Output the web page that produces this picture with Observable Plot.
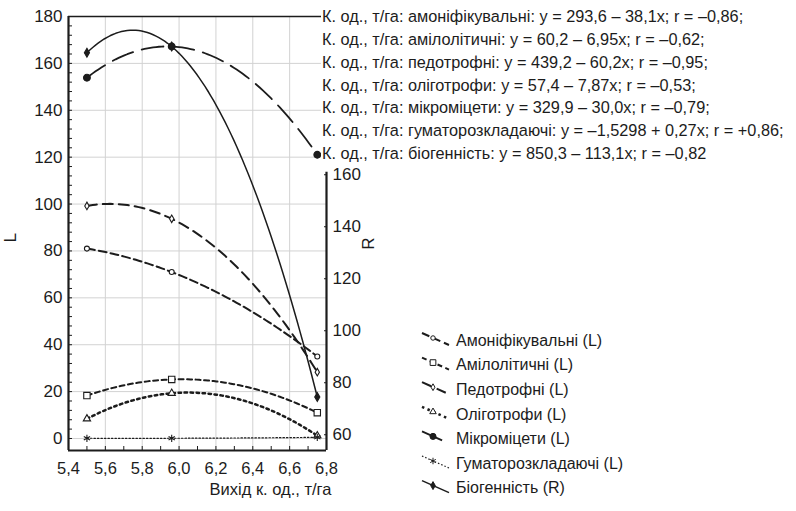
<!DOCTYPE html>
<html>
<head>
<meta charset="utf-8">
<script src="https://cdn.jsdelivr.net/npm/d3@7"></script>
<script src="https://cdn.jsdelivr.net/npm/@observablehq/plot@0.6"></script>
<style>
  html, body { margin: 0; padding: 0; background: white; }
</style>
</head>
<body>
<div id="chart"></div>
<script>
// ---- data ----
const xVals = [5.5, 5.96, 6.75];
const amonif = [81, 71, 35];          // Амоніфікувальні (L)
const amilo = [18.3, 25.2, 11];       // Амілолітичні (L)
const pedo = [99.2, 93.7, 28.3];      // Педотрофні (L)
const oligo = [8.4, 19.3, 1.2];       // Оліготрофи (L)
const mikro = [153.9, 167.2, 121];    // Мікроміцети (L)
const humat = [0.1, 0.1, 0.5];        // Гуматорозкладаючі (L)
const biogen = [206.9, 209.3, 74.5];  // Біогенність (R)

const seriesNames = ["Амоніфікувальні (L)", "Амілолітичні (L)", "Педотрофні (L)",
  "Оліготрофи (L)", "Мікроміцети (L)", "Гуматорозкладаючі (L)", "Біогенність (R)"];
const seriesValues = [amonif, amilo, pedo, oligo, mikro, humat, biogen];

const xTicks = [5.4, 5.6, 5.8, 6.0, 6.2, 6.4, 6.6, 6.8];
const xMinor = [5.5, 5.6, 5.7, 5.8, 5.9, 6.0, 6.1, 6.2, 6.3, 6.4, 6.5, 6.6, 6.7];
const yTicks = [0, 20, 40, 60, 80, 100, 120, 140, 160, 180];
const rTicks = [60, 80, 100, 120, 140, 160];

const regressionLabels = [
  "К. од., т/га: амоніфікувальні: y = 293,6 – 38,1x; r = –0,86;",
  "К. од., т/га: амілолітичні: y = 60,2 – 6,95x; r = –0,62;",
  "К. од., т/га: педотрофні: y = 439,2 – 60,2x; r = –0,95;",
  "К. од., т/га: оліготрофи: y = 57,4 – 7,87x; r = –0,53;",
  "К. од., т/га: мікроміцети: y = 329,9 – 30,0x; r = –0,79;",
  "К. од., т/га: гуматорозкладаючі: y = –1,5298 + 0,27x; r = +0,86;",
  "К. од., т/га: біогенність: y = 850,3 – 113,1x; r = –0,82"
];

// ---- styles ----
const ink = "#1c1c1c";
const styles = [
  {dash: "8,4",   sw: 2,   symbol: "circle",   r: 2.5, fill: "white", d3sym: d3.symbolCircle},
  {dash: "5,3.5", sw: 2,   symbol: "square",   r: 3.6, fill: "white", d3sym: d3.symbolSquare},
  {dash: "10,6",  sw: 2,   symbol: "diamond",  r: 2.3, fill: "white", d3sym: d3.symbolDiamond},
  {dash: "2.5,3.5", sw: 2.5, symbol: "triangle", r: 2.7, fill: "white", d3sym: d3.symbolTriangle},
  {dash: "22,9",  sw: 1.8, symbol: "circle",   r: 3.4, fill: ink,     d3sym: d3.symbolCircle},
  {dash: "1.5,2", sw: 1.2, symbol: "asterisk", r: 3.4, fill: "none",  d3sym: d3.symbolAsterisk},
  {dash: null,    sw: 1.5, symbol: "diamond",  r: 2.7, fill: ink,     d3sym: d3.symbolDiamond}
];

// right (R) axis expressed in left (L) units
const rToL = d3.scaleLinear().domain([60, 160]).range([1.6, 112.5]);
const yMin = -5.12;
const fmt = d => d.toFixed(1).replace(".", ",");

// smooth polynomial curve through the drawn points (rendering style)
function polyCurve(context) {
  let pts;
  return {
    areaStart() {}, areaEnd() {},
    lineStart() { pts = []; },
    point(x, y) { pts.push([+x, +y]); },
    lineEnd() {
      const n = pts.length;
      if (!n) return;
      const f = (x) => {
        let s = 0;
        for (let i = 0; i < n; i++) {
          let l = 1;
          for (let j = 0; j < n; j++) if (j !== i) l *= (x - pts[j][0]) / (pts[i][0] - pts[j][0]);
          s += l * pts[i][1];
        }
        return s;
      };
      const x0 = pts[0][0], x1 = pts[n - 1][0], steps = 80;
      for (let k = 0; k <= steps; k++) {
        const x = x0 + (x1 - x0) * k / steps;
        if (k === 0) context.moveTo(x, f(x)); else context.lineTo(x, f(x));
      }
    }
  };
}

const rows = seriesValues.map((vals, si) => xVals.map((x, i) => ({
  x, y: si === 6 ? rToL(vals[i]) : vals[i]
})));

const lineMarks = rows.map((r, si) => Plot.line(r, {
  x: "x", y: "y", curve: polyCurve, stroke: ink,
  strokeWidth: styles[si].sw, strokeDasharray: styles[si].dash
}));
const dotMarks = rows.map((r, si) => Plot.dot(r, {
  x: "x", y: "y", symbol: () => styles[si].symbol, r: styles[si].r,
  fill: styles[si].fill, stroke: ink, strokeWidth: 1.1
}));

const chart = Plot.plot({
  width: 796, height: 511,
  marginLeft: 68, marginRight: 470, marginTop: 16, marginBottom: 61,
  style: {fontFamily: "'Liberation Sans', Arial, sans-serif", fontSize: "16px", color: ink, background: "white"},
  x: {domain: [5.4, 6.8]},
  y: {domain: [yMin, 180]},
  marks: [
    Plot.ruleY(yTicks.slice(0, -1), {stroke: "#d2d2d2", strokeWidth: 1}),
    Plot.ruleX(xTicks.slice(1, -1), {stroke: "#d2d2d2", strokeWidth: 1}),
    // frame
    Plot.ruleY([180], {stroke: ink, strokeWidth: 1.5}),
    Plot.ruleY([yMin], {stroke: ink, strokeWidth: 2.2}),
    Plot.ruleX([5.4], {stroke: ink, strokeWidth: 2.2}),
    Plot.ruleX([{x: 6.8, y1: rToL(161), y2: yMin}], {x: "x", y1: "y1", y2: "y2", stroke: ink, strokeWidth: 2.2}),
    // left axis
    Plot.axisY(yTicks, {anchor: "left", tickSize: 0, tickPadding: 6, fontSize: 17, label: null}),
    Plot.axisY(d3.range(0, 181, 4), {anchor: "left", tickSize: 4, dx: 4, tickFormat: () => "", label: null}),
    // bottom axis
    Plot.axisX(xTicks, {anchor: "bottom", tickSize: 0, tickPadding: 12, fontSize: 16.5, tickFormat: fmt, label: null}),
    Plot.axisX(xMinor, {anchor: "bottom", tickSize: 4, dy: -4, tickFormat: () => "", label: null}),
    // right axis (R)
    Plot.axisY(rTicks.map(rToL), {anchor: "right", tickSize: 0, tickPadding: 6, fontSize: 17,
      tickFormat: d => String(Math.round(rToL.invert(d))), label: null}),
    Plot.axisY(rTicks.map(rToL), {anchor: "right", tickSize: 3, dx: -3, tickFormat: () => "", label: null}),
    // axis titles
    Plot.text(["Вихід к. од., т/га"], {text: d => d, frameAnchor: "bottom", dx: 73, dy: 44, fontSize: 16.5}),
    Plot.text(["L"], {text: d => d, frameAnchor: "left", dx: -58, dy: 9, rotate: -90, fontSize: 17}),
    Plot.text(["R"], {text: d => d, frameAnchor: "right", dx: 42, dy: 4, rotate: -90, fontSize: 17}),
    ...lineMarks,
    ...dotMarks
  ]
});
document.getElementById("chart").appendChild(chart);

// ---- legends ----
const svgSel = d3.select(chart);
const topLegend = svgSel.append("g").attr("text-anchor", "start");
topLegend.append("rect").attr("x", 321).attr("y", 3).attr("width", 475).attr("height", 163).attr("fill", "white");
regressionLabels.forEach((t, i) => {
  topLegend.append("text").attr("x", 322).attr("y", 16 + i * 22.9).attr("dy", "0.36em")
    .attr("text-anchor", "start").attr("fill", ink).attr("font-size", 16.3).text(t);
});

const bottomLegend = svgSel.append("g").attr("text-anchor", "start");
seriesNames.forEach((name, i) => {
  const y = 340 + i * 24.6;
  const s = styles[i];
  bottomLegend.append("line").attr("x1", 422).attr("y1", y - 7).attr("x2", 449).attr("y2", y + 5)
    .attr("stroke", ink).attr("stroke-width", s.sw)
    .attr("stroke-dasharray", s.dash ? s.dash : null);
  bottomLegend.append("path").attr("transform", `translate(433,${y - 2})`)
    .attr("d", d3.symbol(s.d3sym, Math.PI * s.r * s.r * 0.8)())
    .attr("fill", s.fill).attr("stroke", ink).attr("stroke-width", 1);
  bottomLegend.append("text").attr("x", 456).attr("y", y).attr("dy", "0.36em")
    .attr("text-anchor", "start").attr("fill", ink).attr("font-size", 16).text(name);
});
</script>
</body>
</html>
